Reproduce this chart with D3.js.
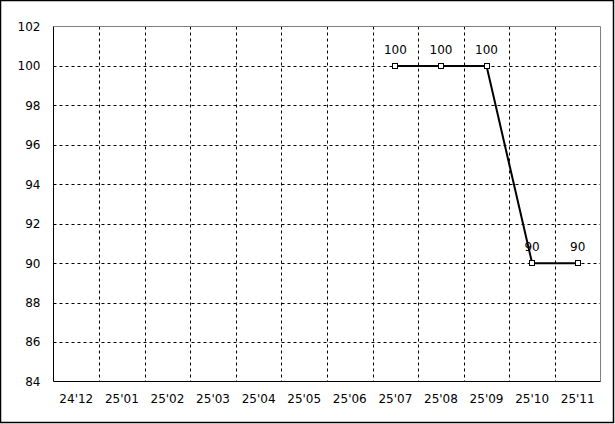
<!DOCTYPE html>
<html>
<head>
<meta charset="utf-8">
<script src="https://cdn.jsdelivr.net/npm/d3@7"></script>
<style>
  html, body { margin: 0; padding: 0; background: #fff; }
  svg text { font-family: "DejaVu Sans", sans-serif; font-size: 12px; fill: #000; }
</style>
</head>
<body>
<svg id="chart"></svg>
<script>
// chart data
var months = ["24'12", "25'01", "25'02", "25'03", "25'04", "25'05", "25'06", "25'07", "25'08", "25'09", "25'10", "25'11"];
var values = [null, null, null, null, null, null, null, 100, 100, 100, 90, 90];
var yTicks = [84, 86, 88, 90, 92, 94, 96, 98, 100, 102];

var width = 615, height = 424;
var pLeft = 53.5, pTop = 26.5, pRight = 600.5, pBottom = 381.5;

var svg = d3.select("#chart").attr("width", width).attr("height", height);

// outer frame
svg.append("rect")
  .attr("x", 0.5).attr("y", 0.5)
  .attr("width", width - 2).attr("height", height - 2)
  .attr("fill", "#fff").attr("stroke", "#000").attr("stroke-width", 1.5);

var x = d3.scaleBand().domain(months).range([pLeft, pRight]);
var y = d3.scaleLinear().domain([84, 102]).range([pBottom, pTop]);

// grid
var grid = svg.append("g");
grid.selectAll("line.h")
  .data(yTicks.filter(function(d) { return d > 84 && d < 102; }))
  .enter().append("line")
  .attr("x1", pLeft).attr("x2", pRight)
  .attr("y1", function(d) { return Math.round(y(d)) + 0.5; })
  .attr("y2", function(d) { return Math.round(y(d)) + 0.5; })
  .attr("stroke", "#000").attr("stroke-dasharray", "3,3");

grid.selectAll("line.v")
  .data(months.slice(1))
  .enter().append("line")
  .attr("x1", function(d) { return Math.round(x(d)) + 0.5; })
  .attr("x2", function(d) { return Math.round(x(d)) + 0.5; })
  .attr("y1", pTop).attr("y2", pBottom)
  .attr("stroke", "#000").attr("stroke-dasharray", "3,3");

// plot border: top/right grey, left/bottom black
svg.append("line").attr("x1", pLeft).attr("x2", pRight).attr("y1", pTop).attr("y2", pTop).attr("stroke", "#808080");
svg.append("line").attr("x1", pRight).attr("x2", pRight).attr("y1", pTop).attr("y2", pBottom).attr("stroke", "#808080");
svg.append("line").attr("x1", pLeft).attr("x2", pLeft).attr("y1", pTop).attr("y2", pBottom).attr("stroke", "#000");
svg.append("line").attr("x1", pLeft).attr("x2", pRight).attr("y1", pBottom).attr("y2", pBottom).attr("stroke", "#000");

// axes
var yAxis = d3.axisLeft(y).tickValues(yTicks).tickSize(0).tickPadding(13);
svg.append("g").attr("transform", "translate(" + pLeft + ",0)").call(yAxis)
  .call(function(g) { g.select(".domain").remove(); })
  .selectAll("text").attr("font-family", null).attr("font-size", null);

var xAxis = d3.axisBottom(x).tickSize(0).tickPadding(13);
svg.append("g").attr("transform", "translate(0," + pBottom + ")").call(xAxis)
  .call(function(g) { g.select(".domain").remove(); })
  .selectAll("text").attr("font-family", null).attr("font-size", null);

// series
var pts = months.map(function(m, i) { return { m: m, v: values[i] }; })
  .filter(function(d) { return d.v !== null; });

var line = d3.line()
  .x(function(d) { return x(d.m) + x.bandwidth() / 2; })
  .y(function(d) { return y(d.v); });

svg.append("path").datum(pts)
  .attr("d", line)
  .attr("fill", "none").attr("stroke", "#000").attr("stroke-width", 2);

svg.selectAll("rect.pt").data(pts).enter().append("rect")
  .attr("class", "pt")
  .attr("x", function(d) { return Math.round(x(d.m) + x.bandwidth() / 2) - 2.5; })
  .attr("y", function(d) { return Math.round(y(d.v)) - 2.5; })
  .attr("width", 5).attr("height", 5)
  .attr("fill", "#fff").attr("stroke", "#000").attr("stroke-width", 1);

svg.selectAll("text.lbl").data(pts).enter().append("text")
  .attr("class", "lbl")
  .attr("x", function(d) { return x(d.m) + x.bandwidth() / 2; })
  .attr("y", function(d) { return y(d.v) - 12; })
  .attr("text-anchor", "middle")
  .text(function(d) { return d.v; });
</script>
</body>
</html>
